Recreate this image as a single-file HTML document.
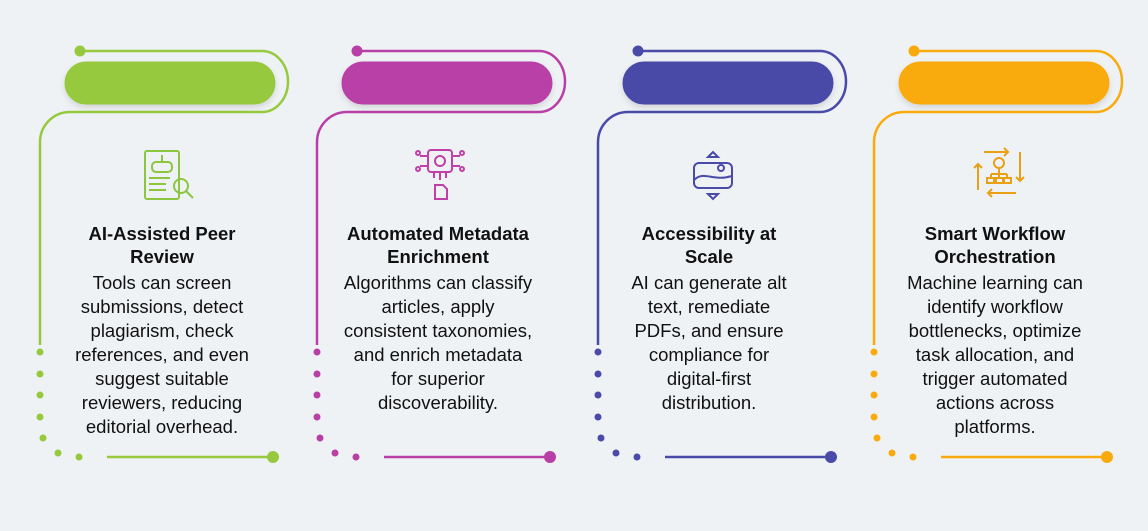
<!DOCTYPE html>
<html><head><meta charset="utf-8"><style>
body{margin:0;width:1148px;height:531px;background:#eff2f5;position:relative;overflow:hidden;font-family:"Liberation Sans",sans-serif}
svg{position:absolute;left:0;top:0}
.t{position:absolute;width:240px;text-align:center;color:#111;font-size:18.5px;line-height:24px}
.t b{display:block;font-size:18.5px;font-weight:bold;line-height:23px;margin-bottom:3px}
</style></head><body>
<svg width="1148" height="531" viewBox="0 0 1148 531">
<defs>
<filter id="sh" x="-20%" y="-50%" width="140%" height="200%"><feDropShadow dx="0" dy="3" stdDeviation="3" flood-color="#000" flood-opacity="0.12"/></filter>
<g id="frame">
<path d="M80,51 H262 A26,30.5 0 0 1 262,112 H70 A30,30 0 0 0 40,142 V345" fill="none" stroke-width="2.5"/>
<circle cx="80" cy="51" r="5"/>
<circle cx="40" cy="352" r="3"/><circle cx="40" cy="374" r="3"/><circle cx="40" cy="395" r="3"/><circle cx="40" cy="417" r="3"/><circle cx="43" cy="438" r="3"/><circle cx="58" cy="453" r="3"/><circle cx="79" cy="457" r="3"/>
<path d="M107,457 H270" fill="none" stroke-width="2.5"/>
<circle cx="273" cy="457" r="5.5"/>
<rect x="65" y="62" width="210" height="42" rx="21" filter="url(#sh)"/>
</g>
</defs>
<g fill="#96c93d" stroke="#96c93d"><use href="#frame"/></g>
<g fill="#b83fa6" stroke="#b83fa6" transform="translate(277,0)"><use href="#frame"/></g>
<g fill="#4a4aa8" stroke="#4a4aa8" transform="translate(558,0)"><use href="#frame"/></g>
<g fill="#f9ab0e" stroke="#f9ab0e" transform="translate(834,0)"><use href="#frame"/></g>
<!-- icon1 -->
<g fill="none" stroke="#8cc63f" stroke-width="2">
<rect x="145" y="151" width="34" height="48" rx="2"/>
<rect x="152" y="162" width="20" height="10" rx="4"/>
<path d="M162,155 V162 M149,178 H170 M149,184 H166 M149,190 H166"/>
<circle cx="181" cy="186" r="7"/><path d="M186,191 L193,198"/>
</g>
<!-- icon2 -->
<g fill="none" stroke="#c040a8" stroke-width="2">
<rect x="428" y="150" width="24" height="22" rx="3"/><circle cx="440" cy="161" r="5"/>
<path d="M428,156 H420 M428,166 H420 M452,156 H460 M452,166 H460 M434,172 V178 M440,172 V180 M446,172 V178"/>
<circle cx="418" cy="153" r="2"/><circle cx="418" cy="169" r="2"/><circle cx="462" cy="153" r="2"/><circle cx="462" cy="169" r="2"/>
<path d="M435,185 H443 L447,189 V199 H435 Z"/>
</g>
<!-- icon3 -->
<g fill="none" stroke="#4a4aa8" stroke-width="2">
<rect x="694" y="163" width="38" height="25" rx="5"/>
<path d="M694,180 C704,170 712,182 732,176"/><circle cx="721" cy="168" r="3"/>
<path d="M708,157 L713,152 L718,157 Z M708,194 L713,199 L718,194 Z"/>
</g>
<!-- icon4 -->
<g fill="none" stroke="#e8a014" stroke-width="2">
<path d="M984,152 H1008 M1004,148 L1008,152 L1004,156 M1020,152 V181 M1016,177 L1020,181 L1024,177 M1016,193 H988 M992,189 L988,193 L992,197 M978,190 V164 M974,168 L978,164 L982,168"/>
<circle cx="999" cy="163" r="5"/><path d="M999,168 V174 M991,174 H1007 M991,174 V178 M999,174 V178 M1007,174 V178"/>
<rect x="987" y="178" width="7" height="5"/><rect x="996" y="178" width="7" height="5"/><rect x="1004" y="178" width="7" height="5"/>
</g>
</svg>
<div class="t" style="left:42px;top:222px"><b>AI-Assisted Peer<br>Review</b>Tools can screen<br>submissions, detect<br>plagiarism, check<br>references, and even<br>suggest suitable<br>reviewers, reducing<br>editorial overhead.</div>
<div class="t" style="left:318px;top:222px"><b>Automated Metadata<br>Enrichment</b>Algorithms can classify<br>articles, apply<br>consistent taxonomies,<br>and enrich metadata<br>for superior<br>discoverability.</div>
<div class="t" style="left:589px;top:222px"><b>Accessibility at<br>Scale</b>AI can generate alt<br>text, remediate<br>PDFs, and ensure<br>compliance for<br>digital-first<br>distribution.</div>
<div class="t" style="left:875px;top:222px"><b>Smart Workflow<br>Orchestration</b>Machine learning can<br>identify workflow<br>bottlenecks, optimize<br>task allocation, and<br>trigger automated<br>actions across<br>platforms.</div>
</body></html>
